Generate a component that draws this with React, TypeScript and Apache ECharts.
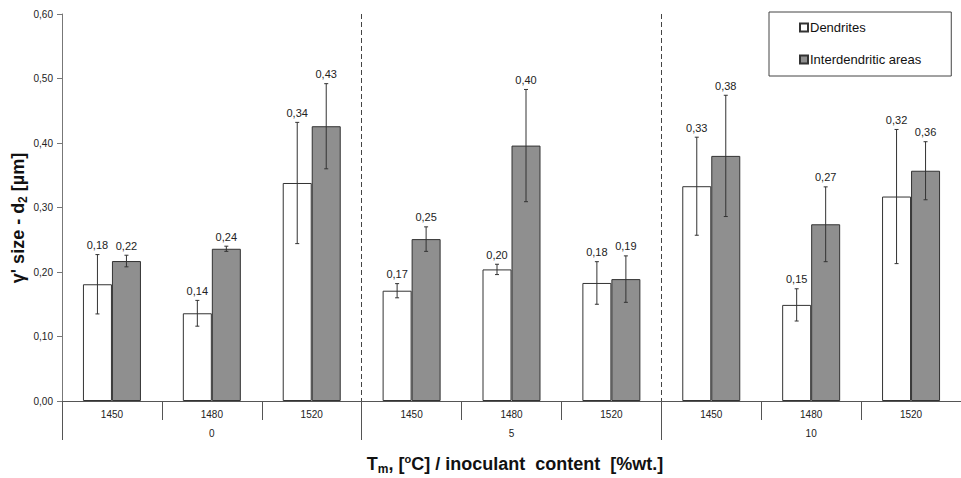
import React, { useEffect, useRef } from "react";
import * as echarts from "echarts";

const temperatures = ["1450", "1480", "1520", "1450", "1480", "1520", "1450", "1480", "1520"];
const inoculantGroups = ["0", "5", "10"];
const dendrites = [0.181, 0.136, 0.338, 0.171, 0.204, 0.183, 0.333, 0.149, 0.317];
const dendritesErr = [0.046, 0.02, 0.094, 0.011, 0.008, 0.033, 0.076, 0.025, 0.104];
const interdendritic = [0.217, 0.236, 0.426, 0.251, 0.396, 0.189, 0.38, 0.274, 0.357];
const interdendriticErr = [0.009, 0.004, 0.066, 0.019, 0.087, 0.036, 0.094, 0.058, 0.045];
const yTicks = [0, 0.1, 0.2, 0.3, 0.4, 0.5, 0.6];

const FONT = "'Liberation Sans', Arial, sans-serif";
const BAR_W = 29;

function fmt(v: number) {
  return v.toFixed(2).replace(".", ",");
}

function errorSeries(name: string, values: number[], errs: number[], offset: number) {
  return {
    type: "custom",
    name: name + " err",
    xAxisIndex: 0,
    yAxisIndex: 0,
    z: 5,
    data: values.map((v, i) => [i, v, errs[i]]),
    renderItem: (params: any, api: any) => {
      const i = api.value(0);
      const v = api.value(1);
      const e = api.value(2);
      const top = api.coord([i, v + e]);
      const bot = api.coord([i, v - e]);
      const x = top[0] + offset;
      const stroke = { stroke: "#333", lineWidth: 1 };
      return {
        type: "group",
        children: [
          { type: "line", shape: { x1: x, y1: top[1], x2: x, y2: bot[1] }, style: stroke },
          { type: "line", shape: { x1: x - 2, y1: top[1], x2: x + 2, y2: top[1] }, style: stroke },
          { type: "line", shape: { x1: x - 2, y1: bot[1], x2: x + 2, y2: bot[1] }, style: stroke },
          {
            type: "text",
            style: {
              x: x,
              y: top[1] - 4,
              text: fmt(v),
              align: "center",
              verticalAlign: "bottom",
              fontFamily: FONT,
              fontSize: 11,
              fill: "#222",
            },
          },
        ],
      };
    },
  };
}

export default function App() {
  const ref = useRef<HTMLDivElement>(null);
  useEffect(() => {
    if (!ref.current) return;
    const chart = echarts.init(ref.current, undefined, { renderer: "svg" });
    const option: any = {
      animation: false,
      backgroundColor: "#fff",
      textStyle: { fontFamily: FONT },
      grid: { left: 62, top: 14, width: 905, height: 387, containLabel: false },
      legend: {
        left: 769,
        top: 12,
        orient: "vertical",
        align: "left",
        icon: "rect",
        itemWidth: 8,
        itemHeight: 8,
        itemGap: 19,
        padding: [9, 30, 10, 30],
        borderColor: "#444",
        borderWidth: 1,
        backgroundColor: "#fff",
        textStyle: { fontFamily: FONT, fontSize: 13, color: "#111", padding: [0, 0, 0, -3] },
        data: ["Dendrites", "Interdendritic areas"],
      },
      xAxis: [
        {
          type: "category",
          data: temperatures,
          position: "bottom",
          axisLine: { show: true, lineStyle: { color: "#555", width: 1 } },
          axisTick: { show: true, length: 19, lineStyle: { color: "#555" } },
          axisLabel: { margin: 8, fontSize: 10, color: "#222", fontFamily: FONT },
          splitLine: { show: false },
        },
        {
          type: "category",
          data: inoculantGroups,
          position: "bottom",
          axisLine: { show: false },
          axisTick: { show: true, length: 39, lineStyle: { color: "#555" } },
          axisLabel: { margin: 27, fontSize: 10, color: "#222", fontFamily: FONT },
          splitLine: { show: true, lineStyle: { color: "#444", type: [5, 3], width: 1 } },
        },
      ],
      yAxis: {
        type: "value",
        min: 0,
        max: 0.6,
        interval: 0.1,
        axisLine: { show: true, lineStyle: { color: "#777" } },
        axisTick: { show: true, length: 5, lineStyle: { color: "#777" } },
        axisLabel: {
          margin: 9,
          fontSize: 10,
          color: "#222",
          fontFamily: FONT,
          formatter: (v: number) => {
            const t = yTicks.find((k) => Math.abs(k - v) < 1e-6);
            return fmt(t === undefined ? v : t);
          },
        },
        splitLine: { show: false },
      },
      graphic: [
        {
          type: "text",
          x: 18,
          y: 218,
          rotation: Math.PI / 2,
          style: {
            text: "{a|γ' size - d}{s|2}{a| [µm]}",
            align: "center",
            verticalAlign: "middle",
            rich: {
              a: { fontFamily: FONT, fontSize: 18, fontWeight: "bold", fill: "#111", lineHeight: 22 },
              s: { fontFamily: FONT, fontSize: 12, fontWeight: "bold", fill: "#111", lineHeight: 14, verticalAlign: "bottom" },
            },
          },
        },
        {
          type: "text",
          x: 515,
          y: 464,
          style: {
            text: "{a|T}{s|m}{a|, [}{p|o}{a|C] / inoculant  content  [%wt.]}",
            align: "center",
            verticalAlign: "middle",
            rich: {
              a: { fontFamily: FONT, fontSize: 18, fontWeight: "bold", fill: "#111", lineHeight: 22 },
              s: { fontFamily: FONT, fontSize: 12, fontWeight: "bold", fill: "#111", lineHeight: 14, verticalAlign: "bottom" },
              p: { fontFamily: FONT, fontSize: 11, fontWeight: "bold", fill: "#111", lineHeight: 14, verticalAlign: "top" },
            },
          },
        },
      ],
      series: [
        {
          type: "bar",
          name: "Dendrites",
          data: dendrites,
          barWidth: BAR_W,
          barGap: "0%",
          itemStyle: { color: "#ffffff", borderColor: "#333", borderWidth: 1 },
        },
        {
          type: "bar",
          name: "Interdendritic areas",
          data: interdendritic,
          barWidth: BAR_W,
          barGap: "0%",
          itemStyle: { color: "#8f8f8f", borderColor: "#333", borderWidth: 1 },
        },
        errorSeries("Dendrites", dendrites, dendritesErr, -BAR_W / 2),
        errorSeries("Interdendritic areas", interdendritic, interdendriticErr, BAR_W / 2),
      ],
    };
    chart.setOption(option);
    return () => chart.dispose();
  }, []);
  return (
    <div
      ref={ref}
      style={{ position: "absolute", left: 0, top: 0, width: 961, height: 478, overflow: "hidden" }}
    />
  );
}
